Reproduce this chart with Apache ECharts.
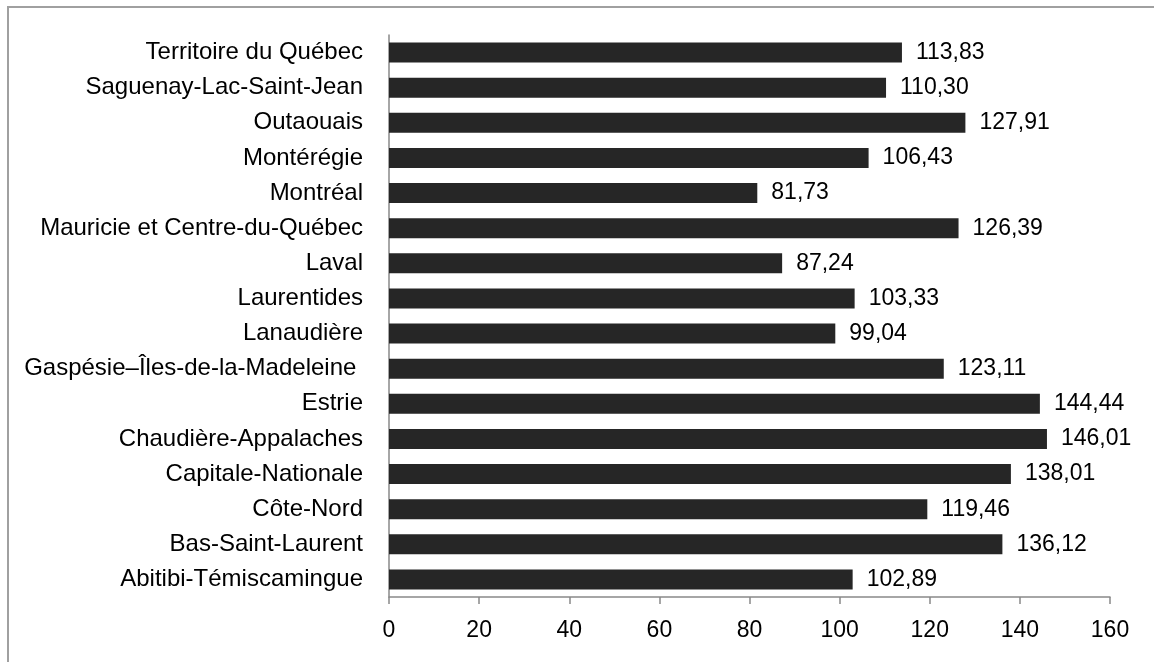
<!DOCTYPE html>
<html>
<head>
<meta charset="utf-8">
<script src="https://cdn.jsdelivr.net/npm/echarts@6/dist/echarts.min.js"></script>
<style>
html,body{margin:0;padding:0;background:#fff;}
#frame{position:absolute;left:7px;top:6px;width:1300px;height:800px;border-left:2px solid #a0a0a0;border-top:2px solid #a0a0a0;box-sizing:border-box;}
#chart{position:absolute;left:0;top:0;width:1154px;height:662px;}
</style>
</head>
<body>
<div id="frame"></div>
<div id="chart"></div>
<script>
const categories = [
  "Abitibi-Témiscamingue",
  "Bas-Saint-Laurent",
  "Côte-Nord",
  "Capitale-Nationale",
  "Chaudière-Appalaches",
  "Estrie",
  "Gaspésie–Îles-de-la-Madeleine ",
  "Lanaudière",
  "Laurentides",
  "Laval",
  "Mauricie et Centre-du-Québec",
  "Montréal",
  "Montérégie",
  "Outaouais",
  "Saguenay-Lac-Saint-Jean",
  "Territoire du Québec"
];
const values = [102.89, 136.12, 119.46, 138.01, 146.01, 144.44, 123.11, 99.04, 103.33, 87.24, 126.39, 81.73, 106.43, 127.91, 110.30, 113.83];
const xMin = 0, xMax = 160, xStep = 20;

const FONT = "Liberation Sans";
const chart = echarts.init(document.getElementById('chart'), null, {renderer: 'canvas'});
chart.setOption({
  animation: false,
  backgroundColor: 'transparent',
  grid: {left: 389, right: 44, top: 35, bottom: 65, containLabel: false},
  xAxis: {
    type: 'value', min: xMin, max: xMax, interval: xStep,
    axisLine: {show: true, lineStyle: {color: '#898989', width: 1.5}},
    axisTick: {show: true, length: 7, lineStyle: {color: '#898989', width: 1.5}},
    splitLine: {show: false},
    axisLabel: {color: '#000', fontFamily: FONT, fontSize: 23, margin: 22}
  },
  yAxis: {
    type: 'category', data: categories,
    axisLine: {show: true, lineStyle: {color: '#898989', width: 1.5}},
    axisTick: {show: false},
    axisLabel: {color: '#000', fontFamily: FONT, fontSize: 24, margin: 26}
  },
  series: [{
    type: 'bar', data: values, barCategoryGap: '43%',
    itemStyle: {color: '#262626'},
    label: {
      show: true, position: 'right', distance: 14,
      color: '#000', fontFamily: FONT, fontSize: 23,
      formatter: p => p.value.toFixed(2).replace('.', ',')
    }
  }]
});
</script>
</body>
</html>
